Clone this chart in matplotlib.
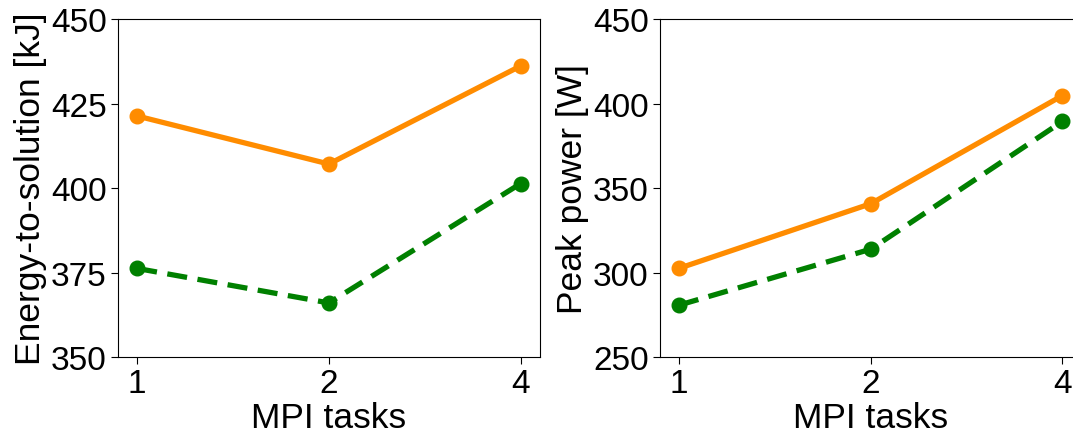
import numpy as np
from matplotlib import pyplot as plt

plt.rcParams['font.family'] = ['Liberation Sans', 'DejaVu Sans']

mpi_tasks = ["1", "2", "4"]
energy_orange = [421.3, 407.1, 436.1]
energy_green = [376.2, 366.0, 401.3]
power_orange = [302.5, 340.7, 404.7]
power_green = [280.7, 313.8, 389.4]

fs_tick = 24
fs_label = 25.5

fig = plt.figure(figsize=(10.73, 4.35), dpi=100)
ax0 = fig.add_axes([0.110, 0.177, 0.393, 0.777])
ax1 = fig.add_axes([0.615, 0.177, 0.393, 0.777])

x = np.arange(len(mpi_tasks))

for ax, orange, green, ylim, yticks, ylabel in [
    (ax0, energy_orange, energy_green, (350, 450), [350, 375, 400, 425, 450], "Energy-to-solution [kJ]"),
    (ax1, power_orange, power_green, (250, 450), [250, 300, 350, 400, 450], "Peak power [W]"),
]:
    ax.plot(x, orange, color="darkorange", linestyle="-", linewidth=3.8, marker="o", markersize=10.5)
    ax.plot(x, green, color="green", linestyle="--", linewidth=3.8, marker="o", markersize=10.5,
            dashes=(3.8, 2.0))
    ax.set_ylim(*ylim)
    ax.set_yticks(yticks)
    ax.set_xticks(x)
    ax.set_xticklabels(mpi_tasks)
    ax.tick_params(labelsize=fs_tick, length=5, width=0.8, pad=3)
    ax.set_xlabel("MPI tasks", fontsize=fs_label, labelpad=1)
    ax.set_ylabel(ylabel, fontsize=fs_label, labelpad=3)
    for sp in ax.spines.values():
        sp.set_linewidth(0.8)

fig.savefig("out.png", dpi=100)
